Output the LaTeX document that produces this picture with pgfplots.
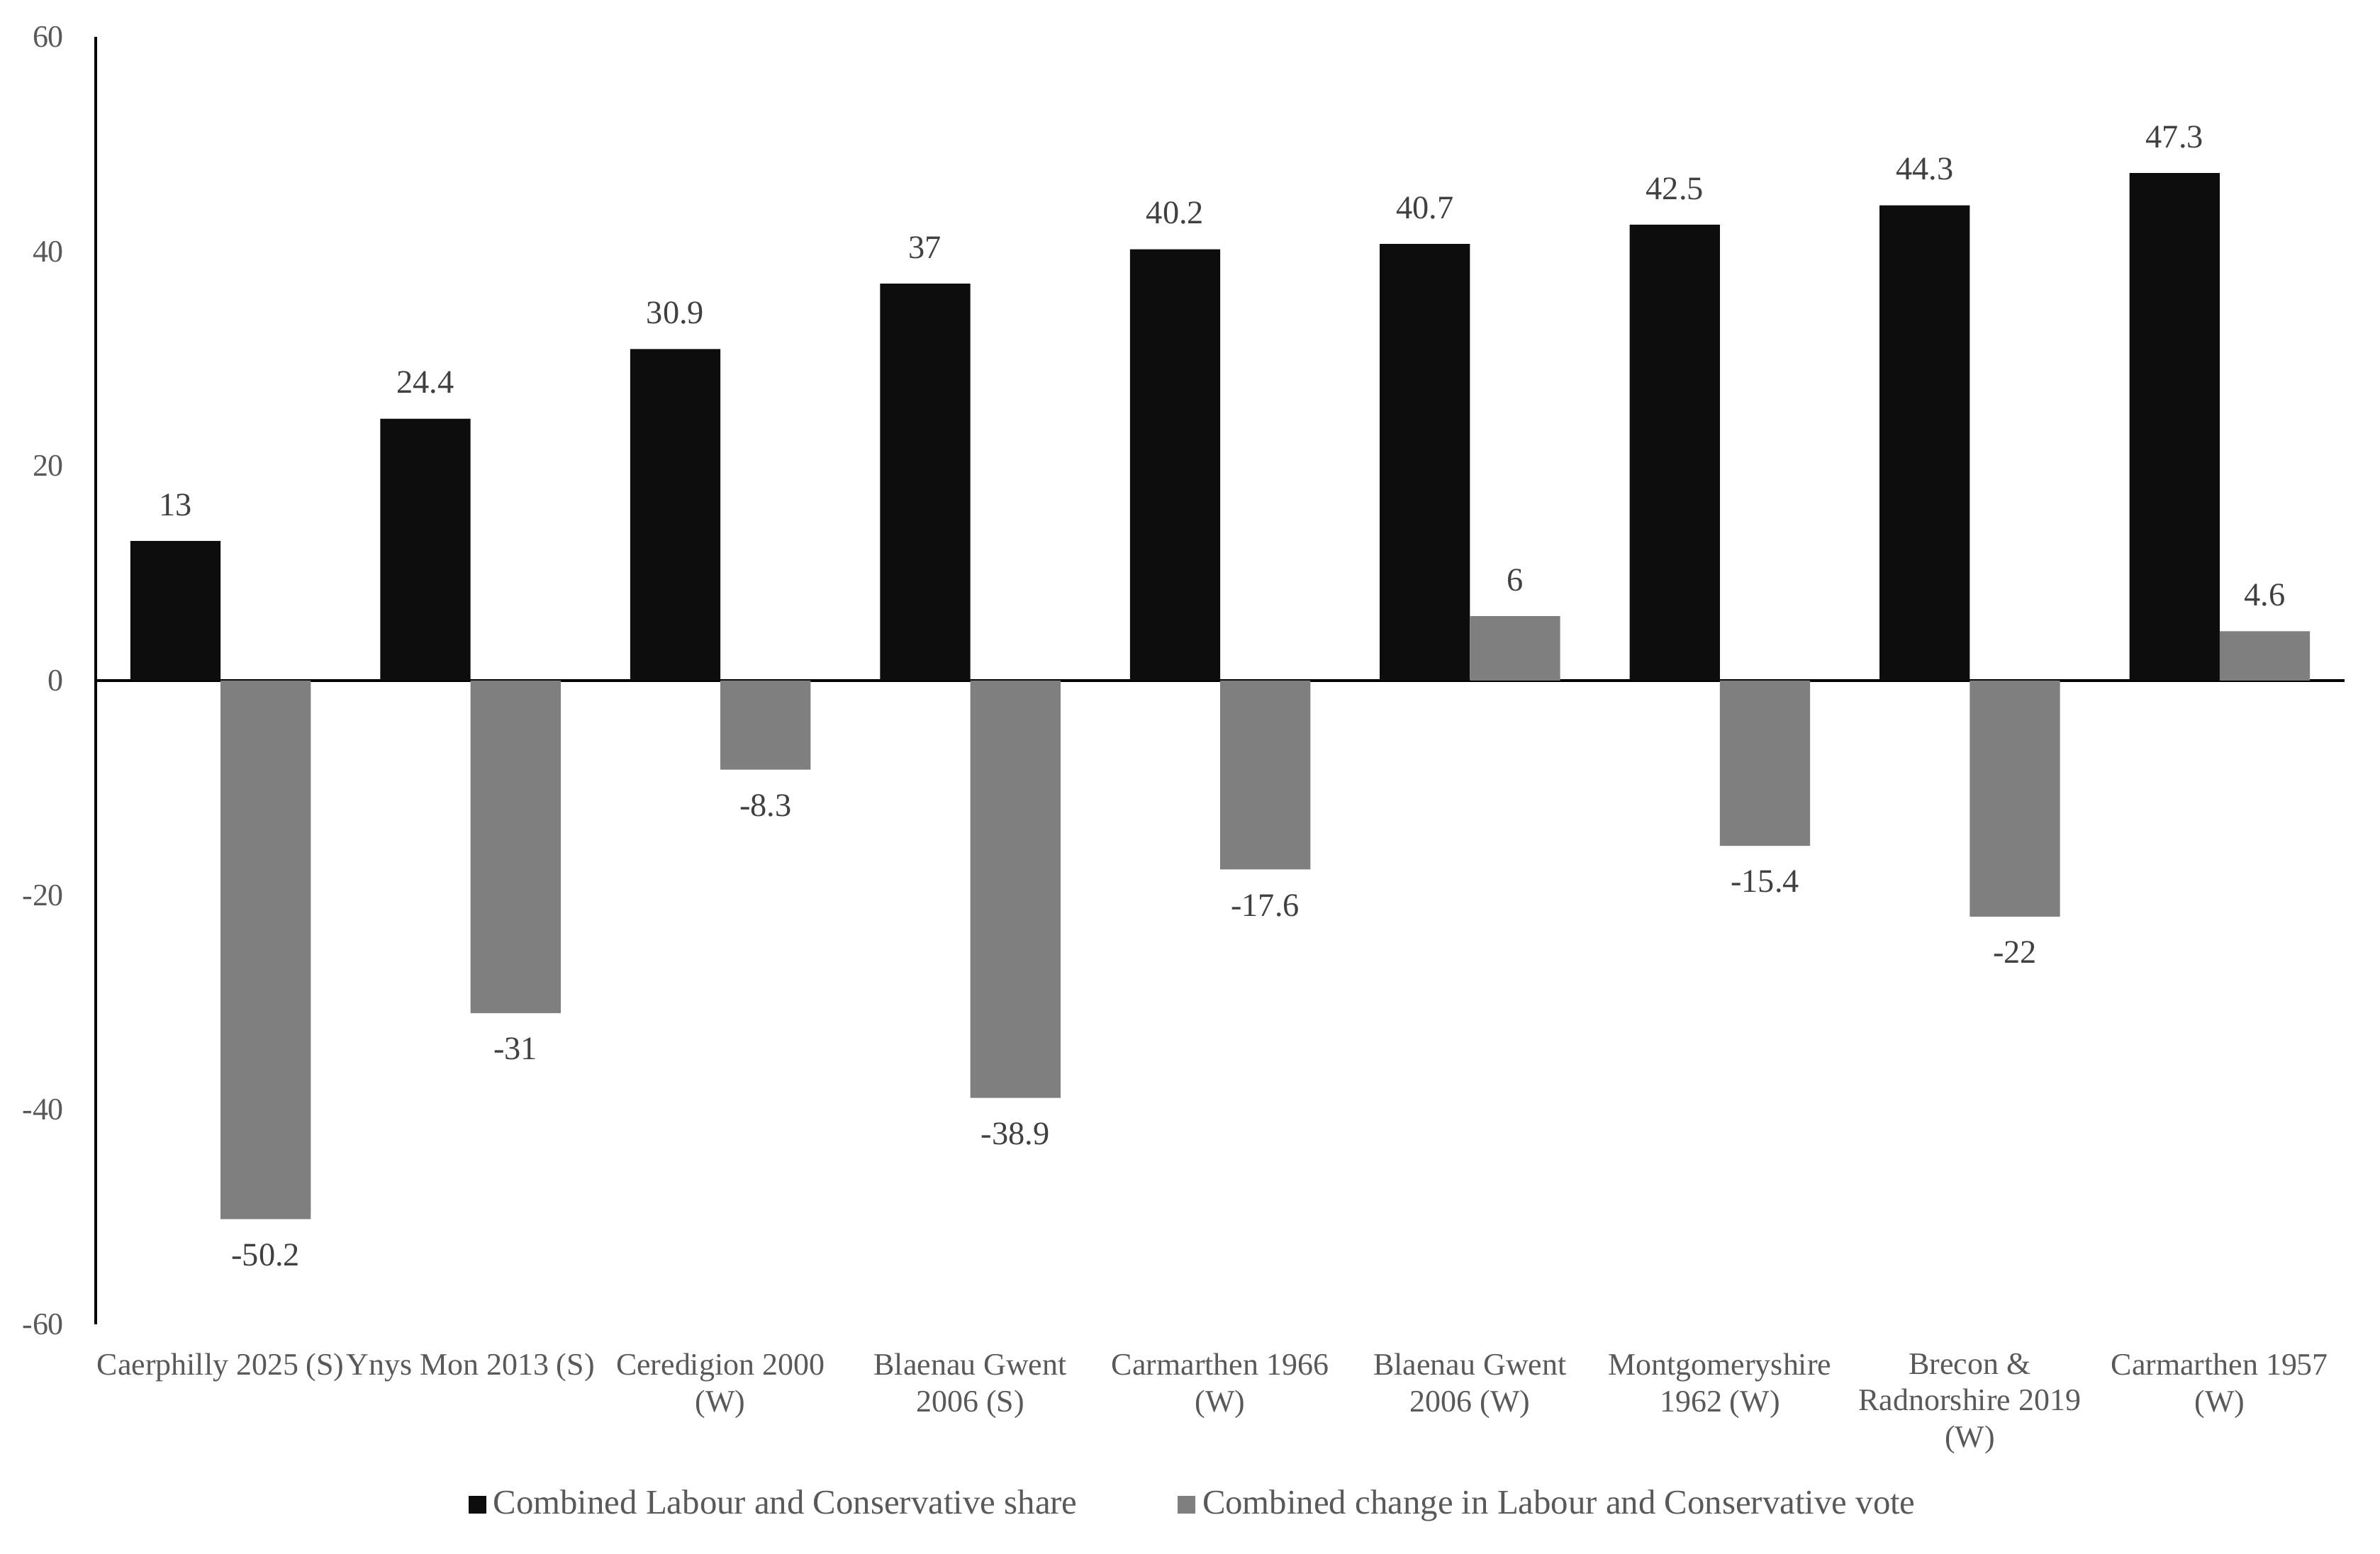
\documentclass[border=0pt]{standalone}
\usepackage{pgfplots}
\pgfplotsset{compat=1.18}
\usepackage{pgfplotstable}
\usepackage{fontspec}
\setmainfont{Liberation Serif}

\definecolor{sharebar}{HTML}{0D0D0D}
\definecolor{changebar}{HTML}{7F7F7F}
\definecolor{labgray}{HTML}{595959}
\definecolor{valgray}{HTML}{404040}

% idx share change
\pgfplotstableread{
idx share change
0 13.0 -50.2
1 24.4 -31.0
2 30.9 -8.3
3 37.0 -38.9
4 40.2 -17.6
5 40.7 6.0
6 42.5 -15.4
7 44.3 -22.0
8 47.3 4.6
}\bydata

\begin{document}
\begin{tikzpicture}
\begin{axis}[
    name=main,
    scale only axis,
    width=22.845cm, height=13.079cm,
    ybar,
    bar width=0.361,
    xmin=-0.5, xmax=8.5,
    ymin=-60, ymax=60,
    enlargelimits=false,
    clip=false,
    axis y line*=left,
    axis x line*=bottom,
    x axis line style={draw=none},
    y axis line style={black, line width=0.9pt},
    ytick={-60,-40,...,60},
    xtick={0,...,8},
    xticklabels={
        Caerphilly 2025 (S),
        Ynys Mon 2013 (S),
        {Ceredigion 2000\\(W)},
        {Blaenau Gwent\\2006 (S)},
        {Carmarthen 1966\\(W)},
        {Blaenau Gwent\\2006 (W)},
        {Montgomeryshire\\1962 (W)},
        {Brecon \&\\Radnorshire 2019\\(W)},
        {Carmarthen 1957\\(W)}},
    major tick length=0pt,
    tick style={draw=none},
    extra y ticks={0},
    extra y tick labels={},
    extra y tick style={grid=major, major grid style={black, line width=0.7pt}},
    /pgf/number format/assume math mode=true,
    ticklabel style={font=\fontsize{9}{10.6}\selectfont, text=labgray},
    xticklabel style={align=center, yshift=-0.17cm},
    yticklabel style={xshift=-0.2cm},
    nodes near coords,
    every node near coord/.append style={font=\fontsize{9.5}{11}\selectfont, text=valgray, inner ysep=7pt},
    legend style={at={(0.489,-0.1399)}, anchor=center, draw=none, fill=none,
        legend columns=2, font=\fontsize{10}{12}\selectfont, text=labgray,
        /tikz/every even column/.append style={column sep=0.95cm}},
    legend image code/.code={\fill[#1] (0cm,-0.09cm) rectangle (0.18cm,0.09cm);},
]
\addplot[fill=sharebar, draw=none, bar shift=-0.1805] table[x=idx, y=share] {\bydata};
\addplot[fill=changebar, draw=none, bar shift=0.1805] table[x=idx, y=change] {\bydata};
\legend{Combined Labour and Conservative share, Combined change in Labour and Conservative vote}
\end{axis}
\path ([xshift=-0.972cm,yshift=-2.333cm]main.south west) rectangle ([xshift=0.36cm,yshift=0.3745cm]main.north east);
\end{tikzpicture}
\end{document}
